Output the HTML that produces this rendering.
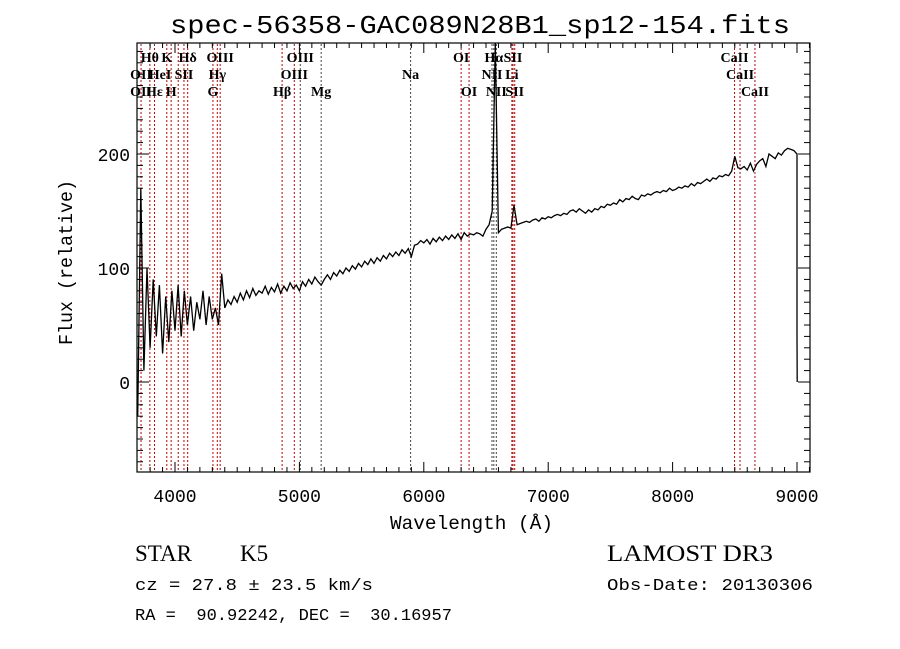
<!DOCTYPE html>
<html><head><meta charset="utf-8"><style>
html,body{margin:0;padding:0;background:#fff;}
svg{display:block;}
text{font-family:"Liberation Sans",sans-serif;fill:#000;white-space:pre;}
.m{font-family:"Liberation Mono",monospace;}
.s{font-family:"Liberation Serif",serif;}
</style></head><body>
<svg id="chart" width="900" height="649" viewBox="0 0 900 649">
<text class="m" x="170" y="33" font-size="26" textLength="620" lengthAdjust="spacingAndGlyphs">spec-56358-GAC089N28B1_sp12-154.fits</text>
<g id="lines"></g>
<g id="labels"></g>
<g id="series"></g>
<rect x="137" y="43" width="673" height="429" fill="none" stroke="#000" stroke-width="1.2"/>
<g id="axes"></g>
<text class="m" x="390" y="529" font-size="19" textLength="163" lengthAdjust="spacingAndGlyphs">Wavelength (Å)</text>
<text class="m" transform="translate(72,345) rotate(-90)" font-size="19" textLength="165" lengthAdjust="spacingAndGlyphs">Flux (relative)</text>
<text class="s" x="135" y="561" font-size="23">STAR</text>
<text class="s" x="240" y="561" font-size="23">K5</text>
<text class="s" x="607" y="561" font-size="23" textLength="166" lengthAdjust="spacingAndGlyphs">LAMOST DR3</text>
<text class="m" x="135" y="590" font-size="17" textLength="238" lengthAdjust="spacingAndGlyphs">cz = 27.8 ± 23.5 km/s</text>
<text class="m" x="607" y="590" font-size="17" textLength="206" lengthAdjust="spacingAndGlyphs">Obs-Date: 20130306</text>
<text class="m" x="135" y="620" font-size="17" textLength="317" lengthAdjust="spacingAndGlyphs">RA =  90.92242, DEC =  30.16957</text>
</svg>
<script>
const startWave = 3700;
const waveStep = 25;
const flux = [-30,170,10,100,30,90,40,85,25,75,35,80,45,
85,40,80,50,75,45,70,55,80,50,75,55,65,50,95,65,72,68,75,70,78,72,80,74,82,76,80,78,84,77,83,79,86,78,84,80,87,82,85,80,
88,84,90,86,92,88,85,90,94,90,96,93,98,95,100,97,102,99,104,101,106,103,108,104,109,106,111,108,113,110,114,111,116,113,117,110,
120,121,124,122,125,121,126,123,127,124,128,125,129,126,130,125,131,128,130,129,131,130,128,134,138,150,300,131,134,135,136,135,155,138,
139,140,141,140,142,143,141,144,143,145,144,146,147,146,148,147,150,151,149,152,150,148,151,149,152,151,154,153,156,155,157,156,160,158,161,160,163,161,160,164,163,165,164,166,167,166,168,167,170,168,
169,171,170,172,171,174,172,175,174,176,178,176,179,178,181,180,182,181,185,198,188,187,189,186,192,185,191,194,196,189,200,198,196,201,199,203,205,204,203,200];
const tailWave = [9000, 9000, 9002];
const tailFlux = [200, 40, 0];
const lineWaves = [3727,3798,3835,3934,3969,4026,4072,4102,4305,4340,4363,4861,4959,5007,5175,5894,6300,6364,6548,6563,6583,6708,6717,6731,8498,8542,8662];
const lineDark = [0,0,0,0,0,0,0,0,0,0,0,0,0,1,1,1,0,0,1,1,1,0,0,0,0,0,0];
const labelText = ["Hθ","K","Hδ","OIII","OIII","OI","Hα","SII","CaII","OII","HeI","SII","Hγ","OIII","Na","NII","Li","CaII","OII","Hε","H","G","Hβ","Mg","OI","NII","SII","CaII"];
const labelWave = [3798,3934,4102,4363,5007,6300,6563,6717,8498,3727,3880,4072,4340,4959,5894,6548,6708,8542,3727,3835,3969,4305,4861,5175,6364,6583,6731,8662];
const labelRow = [0,0,0,0,0,0,0,0,0,1,1,1,1,1,1,1,1,1,2,2,2,2,2,2,2,2,2,2];
const xTicks = [4000,5000,6000,7000,8000,9000];
const yTicks = [0,100,200];

const NS = "http://www.w3.org/2000/svg";
const X = w => 175 + (w - 4000) * 0.1244;
const Y = f => 382 - f * 1.14;
function mk(tag, attrs, parent) {
  const e = document.createElementNS(NS, tag);
  for (const k in attrs) e.setAttribute(k, attrs[k]);
  parent.appendChild(e);
  return e;
}
const clip = v => Math.max(43, Math.min(472, v));

const linesG = document.getElementById('lines');
lineWaves.forEach((w, i) => {
  const l = mk('line', {x1: X(w), x2: X(w), y1: 44, y2: 471, stroke: lineDark[i] ? '#444' : '#c00000', 'stroke-width': 1, 'stroke-dasharray': '2,2'}, linesG);
  
  
});
const labG = document.getElementById('labels');
labelText.forEach((t, i) => {
  const tx = mk('text', {x: X(labelWave[i]), y: 62 + labelRow[i] * 17, 'font-size': 14, 'font-weight': 'bold', 'text-anchor': 'middle', class: 's'}, labG);
  tx.textContent = t;
  
  
});

const sg = document.getElementById('series');
let pts = flux.map((f, i) => X(startWave + i * waveStep).toFixed(1) + ',' + clip(Y(f)).toFixed(1));
tailWave.forEach((w, i) => pts.push(X(w).toFixed(1) + ',' + clip(Y(tailFlux[i])).toFixed(1)));
const pl = mk('polyline', {points: pts.join(' '), fill: 'none', stroke: '#000', 'stroke-width': 1.3}, sg);



const ag = document.getElementById('axes');
for (let w = 3800; w <= 9100; w += 100) {
  const len = (w % 1000 === 0) ? 10 : 5;
  mk('line', {x1: X(w), x2: X(w), y1: 472, y2: 472 - len, stroke: '#000'}, ag);
  mk('line', {x1: X(w), x2: X(w), y1: 43, y2: 43 + len, stroke: '#000'}, ag);
}
for (let f = -70; f <= 290; f += 10) {
  const len = (f % 100 === 0) ? 12 : 6;
  mk('line', {x1: 137, x2: 137 + len, y1: Y(f), y2: Y(f), stroke: '#000'}, ag);
  mk('line', {x1: 810, x2: 810 - len, y1: Y(f), y2: Y(f), stroke: '#000'}, ag);
}
xTicks.forEach(w => {
  const t = mk('text', {x: X(w), y: 502, 'font-size': 18, 'text-anchor': 'middle', class: 'm'}, ag);
  t.textContent = w;
  
  
});
yTicks.forEach(f => {
  const t = mk('text', {x: 130, y: Y(f) + 7, 'font-size': 18, 'text-anchor': 'end', class: 'm'}, ag);
  t.textContent = f;
  
  
});
</script>
</body></html>
